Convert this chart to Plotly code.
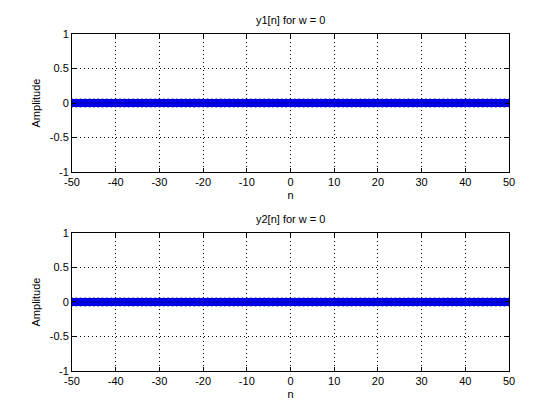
import plotly.graph_objects as go
from plotly.subplots import make_subplots

n = list(range(-50, 51))
y1 = [0.0] * len(n)
y2 = [0.0] * len(n)
titles = ["y1[n] for w = 0", "y2[n] for w = 0"]
xticks = [-50, -40, -30, -20, -10, 0, 10, 20, 30, 40, 50]
yticks = [-1, -0.5, 0, 0.5, 1]
yticklabels = ["-1", "-0.5", "0", "0.5", "1"]

blue = "#0000ff"
font = dict(family="Liberation Sans, Arial, sans-serif", size=11, color="black")

fig = make_subplots(rows=2, cols=1, vertical_spacing=0.181)

for i, ys in enumerate([y1, y2], start=1):
    sx, sy = [], []
    for a, b in zip(n, ys):
        sx += [a, a, None]
        sy += [0, b, None]
    fig.add_trace(go.Scatter(x=sx, y=sy, mode="lines", line=dict(color=blue, width=1),
                             showlegend=False, hoverinfo="skip"), row=i, col=1)
    fig.add_trace(go.Scatter(x=n, y=ys, mode="markers",
                             marker=dict(color=blue, size=8, line=dict(color="#0000c8", width=1)),
                             showlegend=False), row=i, col=1)
    fig.add_trace(go.Scatter(x=[n[0], n[-1]], y=[0, 0], mode="lines",
                             line=dict(color="#0000a0", width=1),
                             showlegend=False, hoverinfo="skip"), row=i, col=1)
    fig.update_xaxes(range=[-50, 50], tickvals=xticks, ticktext=[str(t) for t in xticks],
                     ticks="inside", ticklen=4, tickcolor="black", showline=True, linecolor="black",
                     linewidth=1, mirror="ticks", showgrid=True, gridcolor="black", griddash="1px,3px",
                     gridwidth=1, zeroline=False, title=dict(text="n", font=font, standoff=4),
                     tickfont=font, row=i, col=1)
    fig.update_yaxes(range=[-1, 1], tickvals=yticks, ticktext=yticklabels,
                     ticks="inside", ticklen=4, tickcolor="black", showline=True, linecolor="black",
                     linewidth=1, mirror="ticks", showgrid=True, gridcolor="black", griddash="1px,3px",
                     gridwidth=1, zeroline=False, title=dict(text="Amplitude", font=font, standoff=6),
                     tickfont=font, row=i, col=1)

fig.update_layout(
    width=560, height=420, margin=dict(l=72, r=51, t=34, b=49),
    paper_bgcolor="white", plot_bgcolor="white", font=font,
)
fig.update_yaxes(domain=[0.5905, 1.0], row=1, col=1)
fig.update_yaxes(domain=[0.0, 0.4095], row=2, col=1)

fig.add_annotation(text=titles[0], x=0.5, y=1.0, xref="paper", yref="paper",
                   yanchor="bottom", yshift=6, showarrow=False, font=font)
fig.add_annotation(text=titles[1], x=0.5, y=0.4095, xref="paper", yref="paper",
                   yanchor="bottom", yshift=6, showarrow=False, font=font)

fig.write_html("out.html")
